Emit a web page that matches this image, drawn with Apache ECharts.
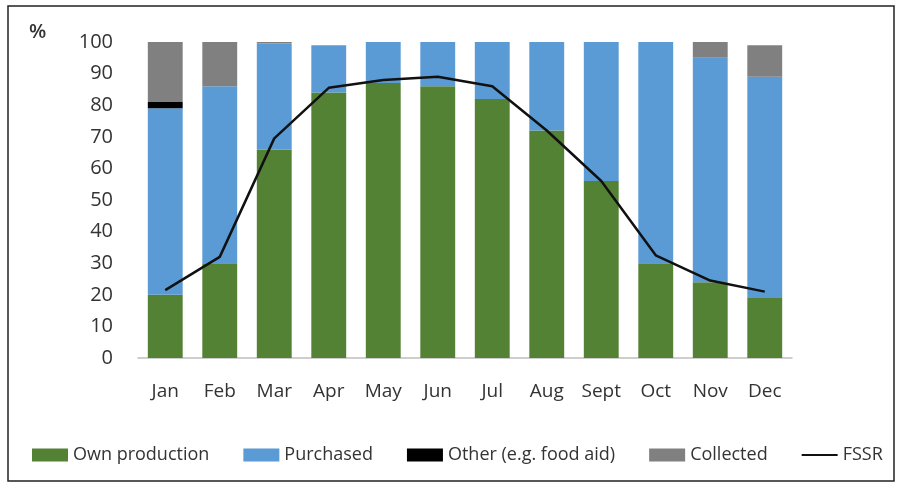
<!DOCTYPE html>
<html>
<head>
<meta charset="utf-8">
<script src="https://cdn.jsdelivr.net/npm/echarts@6/dist/echarts.min.js"></script>
<style>
  html, body { margin: 0; padding: 0; background: #fff; }
  #chart { width: 897px; height: 483px; }
</style>
</head>
<body>
<div id="chart"></div>
<script>
const months = ['Jan', 'Feb', 'Mar', 'Apr', 'May', 'Jun', 'Jul', 'Aug', 'Sept', 'Oct', 'Nov', 'Dec'];
const ownProduction = [20, 30, 66, 84, 87, 86, 82, 72, 56, 30, 24, 19];
const purchased = [59, 56, 33.5, 15, 13, 14, 18, 28, 44, 70, 71, 70];
const otherAid = [2, 0, 0, 0, 0, 0, 0, 0, 0, 0, 0, 0];
const collected = [19, 14, 0.5, 0, 0, 0, 0, 0, 0, 0, 5, 10];
const fssr = [21.5, 32, 69.5, 85.5, 88, 89, 86, 72, 56, 32.5, 24.5, 21];

const font = '"Open Sans", sans-serif';
const chart = echarts.init(document.getElementById('chart'));

const bar = (name, data, color) => ({
    name: name,
    type: 'bar',
    stack: 'total',
    data: data,
    barWidth: '64%',
    itemStyle: { color: color },
    emphasis: { disabled: true }
});

chart.setOption({
    animation: false,
    textStyle: { fontFamily: font },
    graphic: [
        {
            type: 'rect',
            shape: { x: 8, y: 6, width: 886, height: 475 },
            style: { fill: 'none', stroke: '#222', lineWidth: 1.5 }
        },
        {
            type: 'text',
            left: 29, top: 22,
            style: { text: '%', font: '600 20px ' + font, fill: '#333' }
        }
    ],
    grid: { left: 138, right: 105, top: 42, bottom: 125 },
    legend: {
        left: 27,
        top: 441,
        itemWidth: 36,
        itemHeight: 13,
        itemGap: 34,
        icon: 'rect',
        textStyle: { fontSize: 18, color: '#333', fontFamily: font },
        data: [
            'Own production', 'Purchased', 'Other (e.g. food aid)', 'Collected',
            { name: 'FSSR', icon: 'path://M0,6 L36,6 L36,8 L0,8 Z' }
        ]
    },
    xAxis: {
        type: 'category',
        data: months,
        axisLine: { lineStyle: { color: '#bfbfbf', width: 1.5 } },
        axisTick: { show: false },
        axisLabel: { fontSize: 19, color: '#333', margin: 24, fontFamily: font }
    },
    yAxis: {
        type: 'value',
        min: 0,
        max: 100,
        interval: 10,
        axisLine: { show: false },
        axisTick: { show: false },
        splitLine: { show: false },
        axisLabel: { fontSize: 20, color: '#333', margin: 25, fontFamily: font }
    },
    series: [
        bar('Own production', ownProduction, '#548235'),
        bar('Purchased', purchased, '#5b9bd5'),
        bar('Other (e.g. food aid)', otherAid, '#000000'),
        bar('Collected', collected, '#808080'),
        {
            name: 'FSSR',
            type: 'line',
            data: fssr,
            symbol: 'none',
            lineStyle: { color: '#111', width: 2.5 },
            itemStyle: { color: '#111' },
            emphasis: { disabled: true }
        }
    ]
});
</script>
</body>
</html>
